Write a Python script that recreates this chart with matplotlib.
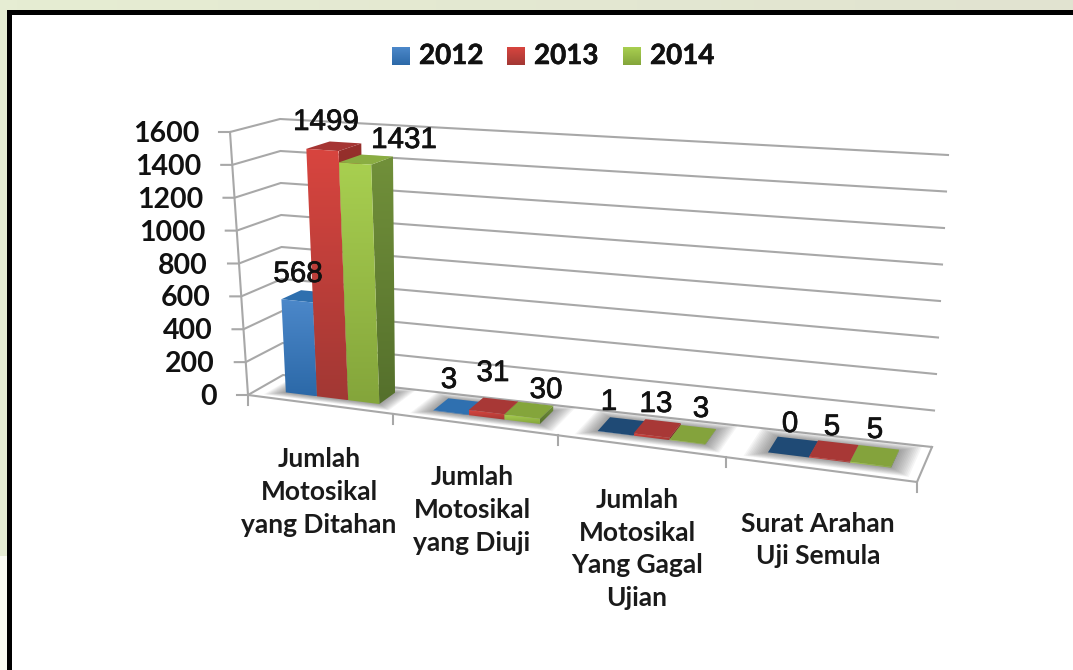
import numpy as np
import matplotlib
matplotlib.use("Agg")
import matplotlib.pyplot as plt
import matplotlib.patheffects as pe
from matplotlib.patches import Polygon, Rectangle
from matplotlib.colors import to_rgb

# =============================================================================
# DATA
# =============================================================================
categories = ["Jumlah\nMotosikal\nyang Ditahan", "Jumlah\nMotosikal\nyang Diuji",
              "Jumlah\nMotosikal\nYang Gagal\nUjian", "Surat Arahan\nUji Semula"]
years = ["2012", "2013", "2014"]
values_2012 = [568, 3, 1, 0]
values_2013 = [1499, 31, 13, 5]
values_2014 = [1431, 30, 3, 5]
axis_ticks = [0, 200, 400, 600, 800, 1000, 1200, 1400, 1600]

# =============================================================================
# LAYOUT / STYLE (pixels)
# =============================================================================
W, H = 1073, 670
AXIS_MAX = 1600.0
# box corners: (front/back, left/right, bottom/top)
C = {
    "flb": (248, 395), "frb": (917, 482), "blb": (283, 375), "brb": (932, 447),
    "flt": (230, 132), "frt": (925, 182), "blt": (280, 119), "brt": (948, 155),
}
TICK_FRACS = [0, 0.217, 0.464, 0.714, 1.0]
GROUP_START, GROUP_END = 0.19, 0.84
V0, V1 = 0.30, 0.80
GRID = "#a8a8a8"

FRONT = [("#4c88ca", "#2c69a8"), ("#d8453f", "#a23834"), ("#a8cf50", "#84a53b")]
SIDE = [("#2f6ca6", "#24568a"), ("#96302c", "#7a2825"), ("#71903a", "#55702c")]
TOP = [["#2e6fae", "#2f70b0", "#1f4a75", "#1f4a75"],
       ["#a53533", "#a83836", "#a83836", "#a83836"],
       ["#8aad42", "#84a53b", "#84a33c", "#84a33c"]]

LABEL_XY = [[(298, 274), (449, 380), (609, 402), (790, 424)],
            [(326, 122), (493, 373), (656, 404), (832, 427)],
            [(404, 140), (546, 390), (701, 409), (875, 430)]]
CAT_LABEL_XY = [(319, 492), (472, 510), (637, 549), (818, 540)]
LEGEND_X = [392, 507, 623]


def project(u, v, h):
    """u: 0-1 along categories, v: 0-1 depth, h: 0-1 height -> pixel"""
    pts = {k: np.array(p, dtype=float) for k, p in C.items()}
    bottom = (pts["flb"] * (1 - u) + pts["frb"] * u) * (1 - v) + (pts["blb"] * (1 - u) + pts["brb"] * u) * v
    top = (pts["flt"] * (1 - u) + pts["frt"] * u) * (1 - v) + (pts["blt"] * (1 - u) + pts["brt"] * u) * v
    return bottom * (1 - h) + top * h


def cat_u(x):
    return float(np.interp(x, range(len(TICK_FRACS)), TICK_FRACS))


def grad_poly(ax, pts, c_top, c_bot, z):
    pts = np.array(pts)
    n = 64
    c1, c2 = np.array(to_rgb(c_top)), np.array(to_rgb(c_bot))
    img = np.linspace(c1, c2, n).reshape(n, 1, 3)
    im = ax.imshow(img, extent=[pts[:, 0].min(), pts[:, 0].max(), pts[:, 1].max(), pts[:, 1].min()],
                   aspect="auto", origin="upper", zorder=z, interpolation="bilinear")
    clip = Polygon(pts, closed=True, transform=ax.transData, facecolor="none", edgecolor="none")
    ax.add_patch(clip)
    im.set_clip_path(clip)


fig = plt.figure(figsize=(W / 100, H / 100), dpi=100, facecolor="#e6edd3")
ax = fig.add_axes([0, 0, 1, 1])
ax.axis("off")

# --- page background and frame ---
strip = np.linspace(np.array(to_rgb("#e6edd3")), np.array(to_rgb("#e1e3d0")), 64).reshape(1, 64, 3)
ax.imshow(strip, extent=[0, W, 12, 0], aspect="auto", zorder=0)
ax.add_patch(Rectangle((0, 556), 8, H - 556, facecolor="#fbfcf3", edgecolor="none", zorder=0.5))
ax.add_patch(Rectangle((6.7, 10), W, H, facecolor="black", edgecolor="none", zorder=1))
ax.add_patch(Rectangle((11.7, 15), W, H, facecolor="white", edgecolor="none", zorder=1.1))

# --- walls and floor ---
lw = 1.5
for t in axis_ticks:
    h = t / AXIS_MAX
    fl, bl, br = project(0, 0, h), project(0, 1, h), project(1, 1, h)
    ax.plot([fl[0] - 11, fl[0], bl[0], br[0]], [fl[1], fl[1], bl[1], br[1]], color=GRID, lw=lw, zorder=2)
    ax.text(fl[0] - 31, fl[1] + 2, str(t), ha="right", va="center", fontsize=20.5, family="Lato",
            fontweight="bold", color="#111111", zorder=8)
a, b = project(0, 0, 1), project(0, 0, 0)
ax.plot([a[0], b[0]], [a[1], b[1]], color=GRID, lw=lw, zorder=2)
a, b, c = project(0, 0, 0), project(1, 0, 0), project(1, 1, 0)
ax.plot([a[0], b[0], c[0]], [a[1], b[1], c[1]], color=GRID, lw=lw, zorder=2)
for frac in TICK_FRACS:
    p = project(frac, 0, 0)
    ax.plot([p[0], p[0]], [p[1], p[1] + 10], color=GRID, lw=lw, zorder=2)

# --- bars ---
series = [values_2012, values_2013, values_2014]
n_cat = len(categories)
for i in range(n_cat):
    # soft floor shadow below each group
    for k in range(12, 0, -1):
        gu, gv = 0.009 * k, 0.016 * k
        u0, u1 = cat_u(i + GROUP_START - gu), cat_u(i + GROUP_END + gu)
        quad = [project(u0, V0 - gv, 0), project(u1, V0 - gv, 0),
                project(u1, V1 + gv, 0), project(u0, V1 + gv, 0)]
        ax.add_patch(Polygon(quad, closed=True, facecolor="#404040", edgecolor="none",
                             alpha=0.05, zorder=3))
    bw = (GROUP_END - GROUP_START) / len(series)
    for s, vals in enumerate(series):
        h = vals[i] / AXIS_MAX
        u0 = cat_u(i + GROUP_START + s * bw)
        u1 = cat_u(i + GROUP_START + (s + 1) * bw)
        z = 4 + 0.1 * s
        ftop = [project(u0, V0, h), project(u1, V0, h), project(u1, V1, h), project(u0, V1, h)]
        front = [project(u0, V0, 0), project(u1, V0, 0), project(u1, V0, h), project(u0, V0, h)]
        side = [project(u1, V0, 0), project(u1, V1, 0), project(u1, V1, h), project(u1, V0, h)]
        grad_poly(ax, side, SIDE[s][0], SIDE[s][1], z)
        ax.add_patch(Polygon(ftop, closed=True, facecolor=TOP[s][i], edgecolor="none", zorder=z + 0.01))
        grad_poly(ax, front, FRONT[s][0], FRONT[s][1], z + 0.02)

# --- value labels ---
for s, vals in enumerate(series):
    for i, val in enumerate(vals):
        x, y = LABEL_XY[s][i]
        ax.text(x, y, str(val), ha="center", va="center", fontsize=21.3, family="Liberation Sans",
                color="#111111", zorder=9,
                path_effects=[pe.withStroke(linewidth=0.5, foreground="#111111")])

# --- category labels ---
for (x, y), name in zip(CAT_LABEL_XY, categories):
    ax.text(x, y, name, ha="center", va="center", fontsize=19, family="Lato", fontweight="bold",
            color="#1a1a1a", linespacing=1.44, zorder=9)

# --- legend ---
for x, year, s in zip(LEGEND_X, years, range(3)):
    swatch = [(x, 47), (x + 18, 47), (x + 18, 65), (x, 65)]
    grad_poly(ax, swatch, FRONT[s][0], FRONT[s][1], 9)
    ax.text(x + 27, 56, year, ha="left", va="center", fontsize=20, family="Lato", fontweight="bold",
            color="#111111", zorder=9,
            path_effects=[pe.withStroke(linewidth=0.4, foreground="#111111")])

ax.set_xlim(0, W)
ax.set_ylim(H, 0)
fig.savefig("out.png", dpi=100)
